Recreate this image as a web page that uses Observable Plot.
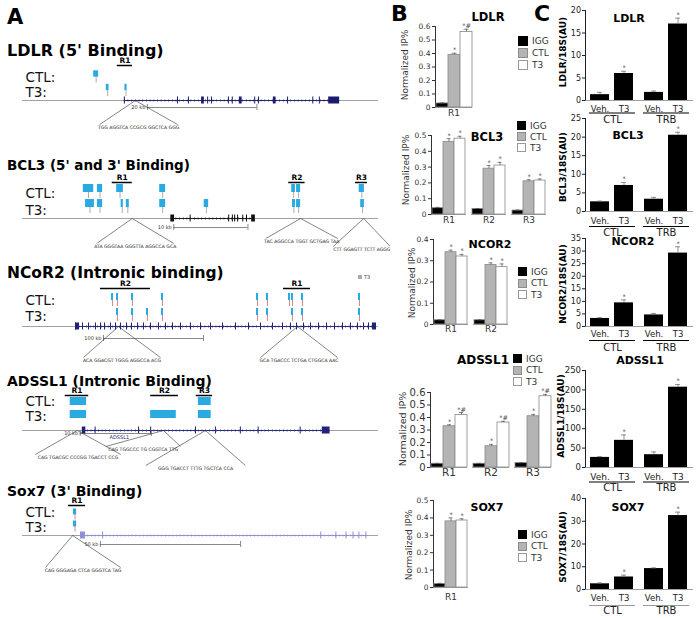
<!DOCTYPE html>
<html>
<head>
<meta charset="utf-8">
<script src="https://cdn.jsdelivr.net/npm/d3@7"></script>
<script src="https://cdn.jsdelivr.net/npm/@observablehq/plot@0.6"></script>
<style>
html,body{margin:0;padding:0;background:#fff;}
#fig{position:relative;width:699px;height:618px;overflow:hidden;font-family:"DejaVu Sans",sans-serif;color:#000;}
#fig svg{max-width:none;}
</style>
</head>
<body>
<div id="fig"></div>
<script>
// ================= DATA =================
// ---- Panel B : ChIP, normalized IP% ----
const seriesB = ["IGG", "CTL", "T3"];
const chipLDLR   = {regions: ["R1"],             IGG: [0.03],             CTL: [0.39],             T3: [0.56]};
const chipBCL3   = {regions: ["R1", "R2", "R3"], IGG: [0.04, 0.035, 0.025], CTL: [0.46, 0.29, 0.21], T3: [0.48, 0.31, 0.215]};
const chipNCOR2  = {regions: ["R1", "R2"],       IGG: [0.02, 0.02],       CTL: [0.34, 0.28],       T3: [0.32, 0.27]};
const chipADSSL1 = {regions: ["R1", "R2", "R3"], IGG: [0.03, 0.03, 0.035], CTL: [0.33, 0.17, 0.41], T3: [0.42, 0.36, 0.57]};
const chipSOX7   = {regions: ["R1"],             IGG: [0.02],             CTL: [0.38],             T3: [0.385]};
const chipErrLDLR   = {IGG: [0.004], CTL: [0.012], T3: [0.02]};
const chipErrBCL3   = {IGG: [0.005, 0.003, 0.003], CTL: [0.02, 0.02, 0.01], T3: [0.015, 0.02, 0.01]};
const chipErrNCOR2  = {IGG: [0.002, 0.002], CTL: [0.01, 0.01], T3: [0.01, 0.015]};
const chipErrADSSL1 = {IGG: [0.003, 0.003, 0.003], CTL: [0.012, 0.015, 0.015], T3: [0.02, 0.01, 0.015]};
const chipErrSOX7   = {IGG: [0.004], CTL: [0.02], T3: [0.01]};
const chipStarLDLR   = {IGG: [""], CTL: ["*"], T3: ["*#"]};
const chipStarBCL3   = {IGG: ["", "", ""], CTL: ["*", "*", "*"], T3: ["*", "*", "*"]};
const chipStarNCOR2  = {IGG: ["", ""], CTL: ["*", "*"], T3: ["*", "*"]};
const chipStarADSSL1 = {IGG: ["", "", ""], CTL: ["*", "*", "*"], T3: ["*#", "*#", "*#"]};
const chipStarSOX7   = {IGG: [""], CTL: ["*"], T3: ["*"]};

// ---- Panel C : expression /18S (AU); order CTL Veh., CTL T3, TRB Veh., TRB T3 ----
const groupsC = ["CTL", "TRB"];
const treatC = ["Veh.", "T3"];
const qLDLR   = [1.3, 6.0, 1.8, 17.0];   const qErrLDLR   = [0.5, 0.5, 0.3, 1.3];
const qBCL3   = [2.6, 7.0, 3.3, 20.5];   const qErrBCL3   = [0.2, 0.8, 0.5, 0.8];
const qNCOR2  = [3.2, 9.4, 4.6, 29.2];   const qErrNCOR2  = [0.3, 1.2, 0.6, 2.5];
const qADSSL1 = [26, 70, 33, 207];       const qErrADSSL1 = [2, 14, 7, 7];
const qSOX7   = [2.5, 5.5, 9.2, 32.5];   const qErrSOX7   = [0.4, 0.8, 0.3, 1.5];

// ---- Panel A : genomic tracks (positions in kb from track start) ----
const ldlrPeaksCTL = [[13.0, 13.9]];
const ldlrPeaksT3  = [[15.3, 15.8], [18.7, 19.1]];
const ldlrExons    = [18.6, 28.3, 30.3, 33.8, 34.5, 37.6, 38.3, 42.4, 43.1, 48.4, 53.0, 54.2];
const ldlrThick    = [[32.7, 33.2], [39.6, 40.1], [45.8, 46.3], [55.9, 57.9]];
const ldlrGene     = [18.6, 57.9];
const ldlrRegions  = [{name: "R1", x1: 17.3, x2: 20.1}];
const ldlrScale    = [22.8, 42.8];
const ldlrZooms    = [{apex: 20.6, left: 14.1, right: 28.3, seq: "TGG AGGTCA CCGCG GGCTCA GGG"}];

const bcl3PeaksCTL = [[8.2, 9.6], [10.1, 10.8], [12.7, 13.6], [18.5, 19.3], [36.3, 36.8], [36.95, 37.5], [45.4, 46.1]];
const bcl3PeaksT3  = [[8.5, 9.7], [10.1, 10.8], [13.3, 13.6], [14.0, 14.4], [18.5, 19.3], [24.5, 25.1], [36.4, 36.8], [36.95, 37.5], [45.6, 46.1]];
const bcl3Exons    = [22.6, 27.8, 28.3, 28.6, 29.0, 29.7, 30.2];
const bcl3Thick    = [[20.0, 20.5], [30.9, 31.4]];
const bcl3Gene     = [20.2, 31.2];
const bcl3Regions  = [{name: "R1", x1: 12.1, x2: 14.8}, {name: "R2", x1: 35.9, x2: 38.1}, {name: "R3", x1: 44.9, x2: 46.5}];
const bcl3Scale    = [20.4, 30.4];
const bcl3Zooms    = [
  {apex: 14.8, left: 10.0, right: 20.4, seq: "ATA GGGTAA GGGTTA AGGCCA GCA"},
  {apex: 37.5, left: 32.8, right: 42.5, seq: "TAC AGGCCA TGGT GCTGAG TAA"},
  {apex: 46.0, left: 41.9, right: 49.6, seq: "CTT GGAGTT TCTT AGGG"}];

const ncorPeaksCTL = [[89, 91], [94, 96], [109, 111], [139, 141], [234, 236], [244, 246], [266, 268], [269, 271], [279, 281], [336, 338]];
const ncorPeaksT3  = [[94, 96], [109, 111], [124, 126], [139, 141], [234, 236], [244, 246], [269, 271], [279, 281], [336, 338]];
const ncorExons    = [53, 56, 60, 66, 73, 78, 82, 88, 93, 98, 104, 109, 115, 121, 128, 136, 143, 150, 158, 168, 178, 188, 200, 213, 226, 238, 250, 260, 268, 274, 281, 288, 296, 304, 312, 320, 328, 335, 341, 346, 350];
const ncorThick    = [[53, 56], [351, 354]];
const ncorGene     = [53, 354];
const ncorRegions  = [{name: "R2", x1: 78, x2: 128}, {name: "R1", x1: 261, x2: 288}];
const ncorScale    = [81, 181];
const ncorZooms    = [
  {apex: 96, left: 61, right: 138, seq: "ACA GGACGT TGGG AGGCCA ACG"},
  {apex: 275, left: 238, right: 315, seq: "GCA TGACCC TCTGA CTGGCA AAC"}];

const adsPeaksCTL = [[6.7, 9.0], [24.7, 26.5]];
const adsPeaksT3  = [[6.7, 9.0], [18.0, 21.6], [24.7, 26.5]];
const adsExons    = [10.2, 16.3, 18.0, 24.3, 27.1, 30.6, 33.1, 39.0];
const adsThick    = [[8.4, 8.9], [42.1, 43.2]];
const adsGene     = [8.6, 43.2];
const adsRegions  = [{name: "R1", x1: 6.0, x2: 9.3}, {name: "R2", x1: 18.0, x2: 21.9}, {name: "R3", x1: 24.4, x2: 26.7}];
const adsScale    = [8.1, 18.1];
const adsZooms    = [
  {apex: 7.7, left: 1.8, right: 13.8, seq: "CAG TGACGC CCCGG TGACCT CCG"},
  {apex: 19.8, left: 11.7, right: 22.2, seq: "CAG TGGCCC TG CGGTCA TTG"},
  {apex: 25.7, left: 17.3, right: 31.3, seq: "GGG TGACCT TTTG TGCTCA CCA"}];

const soxPeaksCTL = [[18.2, 19.3]];
const soxPeaksT3  = [[18.2, 19.3]];
const soxExons    = [22.1, 28.6, 106.4, 111.8, 115.4, 117.9, 120.0, 122.5];
const soxThick    = [[20.7, 22.1]];
const soxGene     = [20.7, 122.5];
const soxRegions  = [{name: "R1", x1: 16.4, x2: 22.5}];
const soxScale    = [27.8, 77.8];
const soxZooms    = [{apex: 17.9, left: 8.2, right: 35.0, seq: "CAG GGGAGA CTCA GGGTCA TAG"}];

// ================= HELPERS =================
const fig = document.getElementById("fig");
function place(node, left, top) {
  node.style.position = "absolute";
  node.style.left = left + "px";
  node.style.top = top + "px";
  fig.appendChild(node);
  return node;
}
function label(text, xc, yc, css, rotate) {
  const d = document.createElement("div");
  d.textContent = text;
  d.style.cssText = `position:absolute;left:${xc}px;top:${yc}px;white-space:nowrap;line-height:1;transform:translate(-50%,-50%)${rotate ? " rotate(-90deg)" : ""};${css || ""}`;
  fig.appendChild(d);
  return d;
}
function labelL(text, x, yc, css) {
  const d = document.createElement("div");
  d.textContent = text;
  d.style.cssText = `position:absolute;left:${x}px;top:${yc}px;white-space:nowrap;line-height:1;transform:translateY(-50%);${css || ""}`;
  fig.appendChild(d);
  return d;
}
const fillB = {IGG: "#000000", CTL: "#b4b4b4", T3: "#ffffff"};
const strokeB = {IGG: "#000000", CTL: "#8c8c8c", T3: "#9a9a9a"};

// ---------- Panel B chart ----------
function chipChart(vals, errs, stars, c) {
  const rows = [];
  vals.regions.forEach((r, i) => seriesB.forEach(s => rows.push({region: r, series: s, value: vals[s][i], err: errs[s][i], star: stars[s][i]})));
  const mL = 30, mR = 4, mT = 10, mB = 22;
  const plot = Plot.plot({
    width: c.x1 - c.x0 + mL + mR, height: c.y0 - c.yTop + mT + mB,
    marginLeft: mL, marginRight: mR, marginTop: mT, marginBottom: mB,
    style: {fontFamily: "DejaVu Sans, sans-serif", fontSize: c.fs + "px", color: "#333", background: "transparent", overflow: "visible"},
    fx: {domain: vals.regions, padding: c.pad, label: null},
    x: {domain: seriesB, padding: 0, axis: null},
    y: {domain: [0, c.ymax], ticks: c.ticks, tickFormat: d => `${d}`, tickSize: 3, tickPadding: 2, label: null, line: true},
    color: {domain: seriesB, range: seriesB.map(s => fillB[s])},
    marks: [
      Plot.barY(rows, {fx: "region", x: "series", y: "value", fill: "series", stroke: "#888", strokeWidth: 0.8}),
      Plot.ruleX(rows, {fx: "region", x: "series", y1: "value", y2: d => d.value + d.err, stroke: "#555", strokeWidth: 0.7}),
      Plot.tickY(rows, {fx: "region", x: "series", y: d => d.value + d.err, stroke: "#555", strokeWidth: 0.7, insetLeft: c.cap, insetRight: c.cap}),
      Plot.text(rows.filter(d => d.star), {fx: "region", x: "series", y: d => d.value + d.err, text: "star", dy: -1, lineAnchor: "bottom", fontSize: 6.5, fill: "#444"}),
      Plot.ruleY([0], {stroke: "#888", strokeWidth: 0.8}),
      Plot.axisFx({anchor: "bottom", tickSize: 0, tickPadding: c.fxPad, fontSize: c.fxfs, label: null})
    ]
  });
  place(plot, c.x0 - mL, c.yTop - mT);
}
function legendB(x, y, pitch, sw, fs) {
  seriesB.forEach((s, i) => {
    const yy = y + i * pitch;
    const d = document.createElement("div");
    d.style.cssText = `position:absolute;left:${x}px;top:${yy}px;width:${sw}px;height:${sw}px;background:${fillB[s]};border:1px solid ${strokeB[s]};box-sizing:border-box`;
    fig.appendChild(d);
    labelL(s, x + sw + 4, yy + sw / 2, `font-size:${fs}px;color:#333`);
  });
}

// ---------- Panel C chart ----------
function qpcrChart(vals, errs, c) {
  const rows = [];
  groupsC.forEach((g, gi) => treatC.forEach((t, ti) => {
    const k = gi * treatC.length + ti;
    rows.push({group: g, treat: t, value: vals[k], err: errs[k], star: t === "T3" ? "*" : ""});
  }));
  const mL = 28, mR = 4, mT = 10, mB = 30;
  const plot = Plot.plot({
    width: c.x1 - c.x0 + mL + mR, height: c.y0 - c.yTop + mT + mB,
    marginLeft: mL, marginRight: mR, marginTop: mT, marginBottom: mB,
    style: {fontFamily: "DejaVu Sans, sans-serif", fontSize: c.fs + "px", color: "#222", background: "transparent", overflow: "visible"},
    fx: {domain: groupsC, padding: 0, label: null},
    x: {domain: treatC, padding: 0.2, label: null},
    y: {domain: [0, c.ymax], ticks: c.ticks, tickSize: 3, tickPadding: 1.5, label: null, line: true},
    marks: [
      Plot.barY(rows, {fx: "group", x: "treat", y: "value", fill: "#000"}),
      Plot.ruleX(rows, {fx: "group", x: "treat", y1: "value", y2: d => d.value + d.err, stroke: "#777", strokeWidth: 0.8}),
      Plot.tickY(rows, {fx: "group", x: "treat", y: d => d.value + d.err, stroke: "#777", strokeWidth: 0.8, insetLeft: 7, insetRight: 7}),
      Plot.text(rows.filter(d => d.star), {fx: "group", x: "treat", y: d => d.value + d.err, text: "star", dy: -1, lineAnchor: "bottom", fontSize: 6.5, fill: "#444"}),
      Plot.ruleY([0], {stroke: "#888", strokeWidth: 0.8}),
      Plot.ruleY([0], {dy: c.ul, stroke: c.ulColor, strokeWidth: 1, insetLeft: 4, insetRight: 4}),
      Plot.axisX({tickSize: 0, tickPadding: c.xPad, fontSize: c.xfs, label: null}),
      Plot.axisFx({anchor: "bottom", tickSize: 0, tickPadding: c.fxPad, fontSize: c.fxfs, label: null})
    ]
  });
  place(plot, c.x0 - mL, c.yTop - mT);
}

// ---------- Panel A track ----------
function geneTrack(t, L) {
  const cyan = "#29abe2";
  const mid = d => (d[0] + d[1]) / 2;
  const marks = [
    Plot.ruleY([L.base], {stroke: "#8a8a8a", strokeWidth: 0.8}),
    Plot.ruleY([t.gene], {x1: d => d[0], x2: d => d[1], y: L.base, stroke: L.geneColor, strokeWidth: 0.9}),
    Plot.ruleY([t.gene], {x1: d => d[0], x2: d => d[1], y: L.base, stroke: L.geneColor, strokeWidth: 3, strokeDasharray: "0.7,3", strokeOpacity: 0.55}),
    Plot.ruleX(t.exons, {x: d => d, y1: L.base - 3.5, y2: L.base + 3.5, stroke: L.geneColor, strokeWidth: 1}),
    Plot.rect(t.thick, {x1: d => d[0], x2: d => d[1], y1: L.base - 3.5, y2: L.base + 3.5, fill: L.geneColor}),
    Plot.rect(t.ctl, {x1: d => d[0], x2: d => d[1], y1: L.ctl - L.ph, y2: L.ctl + L.ph, fill: cyan}),
    Plot.ruleX(t.ctl, {x: mid, y1: L.ctl + L.ph, y2: L.ctl + L.ph + L.stem, stroke: L.stemColor, strokeWidth: 0.8}),
    Plot.rect(t.t3, {x1: d => d[0], x2: d => d[1], y1: L.t3 - L.ph, y2: L.t3 + L.ph, fill: cyan}),
    Plot.ruleX(t.t3, {x: mid, y1: L.t3 + L.ph, y2: L.t3 + L.ph + L.stem, stroke: L.stemColor, strokeWidth: 0.8}),
    Plot.ruleY(t.regions, {x1: "x1", x2: "x2", y: L.reg, stroke: "#000", strokeWidth: 1.5}),
    Plot.text(t.regions, {x: d => (d.x1 + d.x2) / 2, y: L.reg - 4.5, text: "name", fontSize: 7.5, fontWeight: "bold"}),
    Plot.ruleY([t.scale], {x1: d => d[0], x2: d => d[1], y: L.scale, stroke: "#555", strokeWidth: 0.7}),
    Plot.ruleX(t.scale, {x: d => d, y1: L.scale - 3, y2: L.scale + 3, stroke: "#555", strokeWidth: 0.7}),
    Plot.text([t.scaleLabel], {x: t.scale[0], y: L.scale, text: d => d, textAnchor: "end", dx: -2, fontSize: 5, fill: "#333"}),
    Plot.link(t.zooms, {x1: "apex", y1: L.base, x2: "left", y2: (d, i) => L.seqY[i] - 3, stroke: "#333", strokeWidth: 0.6}),
    Plot.link(t.zooms, {x1: "apex", y1: L.base, x2: "right", y2: (d, i) => L.seqY[i] - 3, stroke: "#333", strokeWidth: 0.6}),
    Plot.text(t.zooms, {x: d => (d.left + d.right) / 2, y: (d, i) => L.seqY[i], text: "seq", fontSize: 4.6, fill: "#222"}),
    Plot.text(["CTL:"], {frameAnchor: "left", y: L.ctlLabel, dx: 3, textAnchor: "start", fontSize: 13.5, fill: "#111"}),
    Plot.text(["T3:"], {frameAnchor: "left", y: L.t3Label, dx: 3, textAnchor: "start", fontSize: 13.5, fill: "#111"})
  ];
  if (t.geneLabel) marks.push(Plot.text([t.geneLabel], {x: "x", y: L.geneLabelY, text: "text", fontSize: 5, fill: L.geneColor}));
  const plot = Plot.plot({
    width: 390, height: 618, marginLeft: 22, marginRight: 12, marginTop: 0, marginBottom: 0,
    style: {fontFamily: "DejaVu Sans, sans-serif", background: "transparent"},
    x: {domain: [0, t.L], axis: null},
    y: {type: "identity", axis: null},
    marks
  });
  place(plot, 0, 0);
  labelL(t.title, 7, L.title, `font-size:${L.titleSize}px;font-weight:bold`);
}

// ================= DRAW =================
labelL("A", 7, 17, "font-size:21px;font-weight:bold");
labelL("B", 391, 14, "font-size:22px;font-weight:bold");
labelL("C", 534, 14, "font-size:22px;font-weight:bold");

// Panel A
geneTrack({title: "LDLR (5' Binding)", L: 65, ctl: ldlrPeaksCTL, t3: ldlrPeaksT3, exons: ldlrExons, thick: ldlrThick, gene: ldlrGene, regions: ldlrRegions, scale: ldlrScale, scaleLabel: "20 kb", zooms: ldlrZooms},
  {title: 51, titleSize: 16, reg: 65, ctl: 73.5, t3: 87, ph: 3.2, stem: 6, base: 100, scale: 107, ctlLabel: 77, t3Label: 92, seqY: [127], geneColor: "#1b1b70", stemColor: "#999"});
geneTrack({title: "BCL3 (5' and 3' Binding)", L: 48, ctl: bcl3PeaksCTL, t3: bcl3PeaksT3, exons: bcl3Exons, thick: bcl3Thick, gene: bcl3Gene, regions: bcl3Regions, scale: bcl3Scale, scaleLabel: "10 kb", zooms: bcl3Zooms},
  {title: 166, titleSize: 13.5, reg: 182, ctl: 188, t3: 203, ph: 4, stem: 6, base: 218, scale: 227, ctlLabel: 193, t3Label: 210, seqY: [246, 241, 249], geneColor: "#111", stemColor: "#999"});
geneTrack({title: "NCoR2 (Intronic binding)", L: 356, ctl: ncorPeaksCTL, t3: ncorPeaksT3, exons: ncorExons, thick: ncorThick, gene: ncorGene, regions: ncorRegions, scale: ncorScale, scaleLabel: "100 kb", zooms: ncorZooms},
  {title: 274, titleSize: 15.5, reg: 288, ctl: 296.5, t3: 311.5, ph: 3.5, stem: 6, base: 326, scale: 338, ctlLabel: 300, t3Label: 316, seqY: [360, 360], geneColor: "#22227a", stemColor: "#d06a6a"});
geneTrack({title: "ADSSL1 (Intronic Binding)", L: 50, ctl: adsPeaksCTL, t3: adsPeaksT3, exons: adsExons, thick: adsThick, gene: adsGene, regions: adsRegions, scale: adsScale, scaleLabel: "10 kb", zooms: adsZooms, geneLabel: {text: "ADSSL1", x: 13.6}},
  {title: 381, titleSize: 14, reg: 395, ctl: 401, t3: 414, ph: 4, stem: 0, base: 430, scale: 433, ctlLabel: 401, t3Label: 416, seqY: [457, 449, 468], geneColor: "#22227a", stemColor: "#999", geneLabelY: 437});
geneTrack({title: "Sox7 (3' Binding)", L: 127, ctl: soxPeaksCTL, t3: soxPeaksT3, exons: soxExons, thick: soxThick, gene: soxGene, regions: soxRegions, scale: soxScale, scaleLabel: "50 kb", zooms: soxZooms},
  {title: 491, titleSize: 14, reg: 505, ctl: 511.5, t3: 523.5, ph: 3, stem: 5, base: 535, scale: 544, ctlLabel: 512, t3Label: 527, seqY: [570], geneColor: "#8f8fd6", stemColor: "#d06a6a"});
(function () {
  const d = document.createElement("div");
  d.style.cssText = "position:absolute;left:358px;top:275px;width:4px;height:4px;background:#aaa";
  fig.appendChild(d);
  labelL("T3", 364, 277, "font-size:5px;color:#444");
})();

// Panel B
chipChart(chipLDLR, chipErrLDLR, chipStarLDLR, {x0: 432, x1: 475, yTop: 26, y0: 107, ymax: 0.6, ticks: [0, 0.1, 0.2, 0.3, 0.4, 0.5, 0.6], fs: 7.5, fxfs: 9, pad: 0.13, fxPad: 2, cap: 3.5});
chipChart(chipBCL3, chipErrBCL3, chipStarBCL3, {x0: 430, x1: 546, yTop: 135, y0: 214, ymax: 0.5, ticks: [0, 0.1, 0.2, 0.3, 0.4, 0.5], fs: 7.5, fxfs: 9, pad: 0.135, fxPad: 2, cap: 3.5});
chipChart(chipNCOR2, chipErrNCOR2, chipStarNCOR2, {x0: 433, x1: 509, yTop: 239, y0: 324, ymax: 0.4, ticks: [0, 0.1, 0.2, 0.3, 0.4], fs: 7.5, fxfs: 9, pad: 0.12, fxPad: 1.5, cap: 3.5});
chipChart(chipADSSL1, chipErrADSSL1, chipStarADSSL1, {x0: 429, x1: 552, yTop: 392, y0: 467, ymax: 0.6, ticks: [0, 0.1, 0.2, 0.3, 0.4, 0.5, 0.6], fs: 10, fxfs: 10.5, pad: 0.12, fxPad: 1.5, cap: 4});
chipChart(chipSOX7, chipErrSOX7, chipStarSOX7, {x0: 430, x1: 470, yTop: 500, y0: 587, ymax: 0.5, ticks: [0, 0.1, 0.2, 0.3, 0.4, 0.5], fs: 7.5, fxfs: 9, pad: 0.13, fxPad: 6, cap: 3.5});

label("LDLR", 488, 18, "font-size:11.5px;font-weight:bold");
label("BCL3", 487, 138, "font-size:11.5px;font-weight:bold");
label("NCOR2", 490, 244, "font-size:11px;font-weight:bold");
label("ADSSL1", 483, 360, "font-size:12px;font-weight:bold");
label("SOX7", 487, 507, "font-size:11px;font-weight:bold");
legendB(518, 36, 12, 10, 9);
legendB(517, 121, 11, 9, 9);
legendB(518, 267, 11.5, 9, 9);
legendB(513, 354, 11.5, 9, 9);
legendB(518, 530, 11.5, 9, 9);
label("Normalized IP%", 405, 65, "font-size:9px;color:#333", true);
label("Normalized IP%", 406, 170, "font-size:9px;color:#333", true);
label("Normalized IP%", 412, 283, "font-size:9px;color:#333", true);
label("Normalized IP%", 403, 429, "font-size:9.5px;color:#333", true);
label("Normalized IP%", 409, 545, "font-size:9px;color:#333", true);

// Panel C
qpcrChart(qLDLR, qErrLDLR, {x0: 585, x1: 693, yTop: 10, y0: 100, ymax: 20, ticks: [0, 5, 10, 15, 20], fs: 8, xfs: 8.5, fxfs: 10, xPad: 5, fxPad: 15.5, ul: 12.5, ulColor: "#000"});
qpcrChart(qBCL3, qErrBCL3, {x0: 585, x1: 693, yTop: 118, y0: 211, ymax: 25, ticks: [0, 5, 10, 15, 20, 25], fs: 8, xfs: 8.5, fxfs: 10, xPad: 6, fxPad: 17.5, ul: 15, ulColor: "#000"});
qpcrChart(qNCOR2, qErrNCOR2, {x0: 585, x1: 693, yTop: 238, y0: 326, ymax: 35, ticks: [0, 5, 10, 15, 20, 25, 30, 35], fs: 8, xfs: 8.5, fxfs: 10, xPad: 4, fxPad: 17.5, ul: 14, ulColor: "#000"});
qpcrChart(qADSSL1, qErrADSSL1, {x0: 585, x1: 693, yTop: 370, y0: 467, ymax: 250, ticks: [0, 50, 100, 150, 200, 250], fs: 8.5, xfs: 9, fxfs: 10, xPad: 6.5, fxPad: 16.5, ul: 14.5, ulColor: "#000"});
qpcrChart(qSOX7, qErrSOX7, {x0: 585, x1: 693, yTop: 498, y0: 589, ymax: 40, ticks: [0, 10, 20, 30, 40], fs: 8, xfs: 8.5, fxfs: 10, xPad: 5, fxPad: 17.5, ul: 16, ulColor: "#999"});

label("LDLR", 629, 18, "font-size:11px;font-weight:bold");
label("BCL3", 628, 135, "font-size:11px;font-weight:bold");
label("NCOR2", 633, 241, "font-size:11px;font-weight:bold");
label("ADSSL1", 640, 360, "font-size:11px;font-weight:bold");
label("SOX7", 628, 507, "font-size:11px;font-weight:bold");
label("LDLR/18S(AU)", 563, 52, "font-size:9px;font-weight:bold", true);
label("BCL3/18S(AU)", 563, 167, "font-size:9px;font-weight:bold", true);
label("NCOR2/18S(AU)", 563, 284, "font-size:9px;font-weight:bold", true);
label("ADSSL1/18S(AU)", 561, 416, "font-size:9px;font-weight:bold", true);
label("SOX7/18S(AU)", 563, 547, "font-size:9px;font-weight:bold", true);
</script>
</body>
</html>
